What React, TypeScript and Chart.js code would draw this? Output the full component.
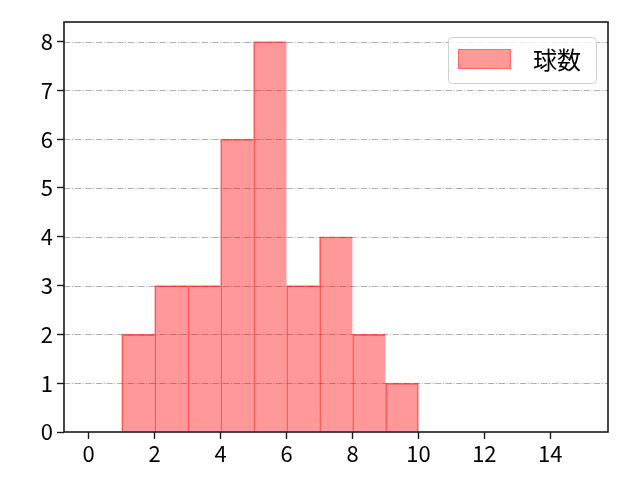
import React, { useEffect, useRef } from "react";
import { Chart, registerables } from "chart.js";

Chart.register(...registerables);

const binCenters = [1.5, 2.5, 3.5, 4.5, 5.5, 6.5, 7.5, 8.5, 9.5];
const counts = [2, 3, 3, 6, 8, 3, 4, 2, 1];
const xTickValues = [0, 2, 4, 6, 8, 10, 12, 14];
const yTickValues = [0, 1, 2, 3, 4, 5, 6, 7, 8];
const seriesLabel = "球数";

const FONT = "'Noto Sans CJK JP', 'DejaVu Sans', sans-serif";

const framePlugin = {
  id: "frameAndGrid",
  beforeDatasetsDraw(chart: any) {
    const { ctx, chartArea, scales } = chart;
    ctx.save();
    ctx.strokeStyle = "#b0b0b0";
    ctx.lineWidth = 1;
    ctx.setLineDash([6.4, 1.6, 1, 1.6]);
    for (const v of yTickValues) {
      if (v === 0) continue;
      const y = Math.round(scales.y.getPixelForValue(v)) + 0.5;
      ctx.beginPath();
      ctx.moveTo(chartArea.left, y);
      ctx.lineTo(chartArea.right, y);
      ctx.stroke();
    }
    ctx.restore();
  },
  afterDatasetsDraw(chart: any) {
    const { ctx, chartArea } = chart;
    ctx.save();
    ctx.strokeStyle = "#1a1a1a";
    ctx.lineWidth = 1.6;
    ctx.strokeRect(
      chartArea.left,
      chartArea.top,
      chartArea.right - chartArea.left,
      chartArea.bottom - chartArea.top
    );
    // legend
    const bx = 448, by = 37, bw = 148, bh = 46;
    ctx.lineWidth = 1;
    ctx.strokeStyle = "#d0d0d0";
    ctx.fillStyle = "rgba(255,255,255,0.8)";
    ctx.beginPath();
    (ctx as any).roundRect(bx + 0.5, by + 0.5, bw, bh, 4);
    ctx.fill();
    ctx.stroke();
    ctx.fillStyle = "rgba(255,0,0,0.4)";
    ctx.fillRect(458, 49, 53, 20);
    ctx.strokeStyle = "rgba(255,0,0,0.3)";
    ctx.strokeRect(458.5, 49.5, 52, 19);
    ctx.fillStyle = "#000";
    ctx.font = `24px ${FONT}`;
    ctx.textBaseline = "middle";
    ctx.textAlign = "left";
    ctx.fillText(seriesLabel, 533, 60);
    ctx.restore();
  },
};

export default function App() {
  const ref = useRef<HTMLCanvasElement | null>(null);
  useEffect(() => {
    document.body.style.margin = "0";
    const canvas = ref.current!;
    const last = counts.length - 1;
    const chart = new Chart(canvas, {
      type: "bar",
      data: {
        datasets: [
          {
            label: seriesLabel,
            data: binCenters.map((x, i) => ({ x, y: counts[i] })),
            backgroundColor: "rgba(255,0,0,0.4)",
            borderColor: "rgba(255,0,0,0.55)",
            borderWidth: (c: any) => ({
              left: 1,
              top: 1,
              bottom: 0,
              right: c.dataIndex === last ? 1 : 0,
            }),
            borderSkipped: false,
            barPercentage: 1,
            categoryPercentage: 1,
          },
        ],
      },
      options: {
        animation: false,
        responsive: false,
        devicePixelRatio: 1,
        layout: { padding: { top: 22, right: 32, left: 0, bottom: 0 } },
        plugins: { legend: { display: false }, tooltip: { enabled: false } },
        scales: {
          x: {
            type: "linear",
            min: -0.75,
            max: 15.75,
            offset: false,
            afterBuildTicks: (s: any) => {
              s.ticks = xTickValues.map((v) => ({ value: v }));
            },
            afterFit: (s: any) => {
              s.height = 48;
            },
            grid: {
              offset: false,
              drawOnChartArea: false,
              drawTicks: true,
              tickLength: 7,
              tickColor: "#1a1a1a",
              tickWidth: 1.4,
            },
            border: { display: false },
            ticks: {
              color: "#000",
              font: { family: FONT, size: 22 },
              padding: 1,
              maxRotation: 0,
              autoSkip: false,
            },
          },
          y: {
            type: "linear",
            min: 0,
            max: 8.4,
            afterBuildTicks: (s: any) => {
              s.ticks = yTickValues.map((v) => ({ value: v }));
            },
            afterFit: (s: any) => {
              s.width = 64;
            },
            grid: {
              drawOnChartArea: false,
              drawTicks: true,
              tickLength: 7,
              tickColor: "#1a1a1a",
              tickWidth: 1.4,
            },
            border: { display: false },
            ticks: {
              color: "#000",
              font: { family: FONT, size: 22 },
              padding: 4,
              autoSkip: false,
            },
          },
        },
      },
      plugins: [framePlugin],
    } as any);
    return () => chart.destroy();
  }, []);
  return (
    <div style={{ width: 640, height: 480 }}>
      <canvas ref={ref} width={640} height={480} style={{ display: "block" }} />
    </div>
  );
}
